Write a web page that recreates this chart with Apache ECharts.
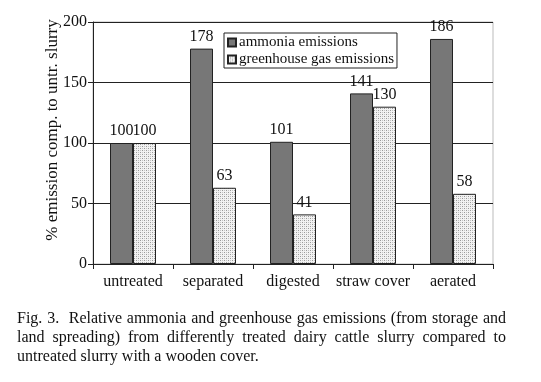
<!DOCTYPE html>
<html><head><meta charset="utf-8">
<script src="https://cdn.jsdelivr.net/npm/echarts@6/dist/echarts.min.js"></script>
<style>
html,body{margin:0;padding:0;background:#fff;}
#chart{position:absolute;left:0;top:0;width:541px;height:382px;}
#cap{position:absolute;left:17px;top:308px;width:489px;font-family:"Liberation Serif",serif;font-size:16px;line-height:19px;color:#111;text-align:justify;text-align-last:left;}
</style></head>
<body>
<div id="chart"></div>
<div id="cap">Fig. 3.&nbsp; Relative ammonia and greenhouse gas emissions (from storage and land spreading) from differently treated dairy cattle slurry compared to untreated slurry with a wooden cover.</div>
<script>
const categories = ['untreated','separated','digested','straw cover','aerated'];
const ammonia = [100,178,101,141,186];
const greenhouse = [100,63,41,130,58];
const yTicks = [0,50,100,150,200];
const yTitle = '% emission comp. to untr. slurry';

function makePattern(){
  const c = document.createElement('canvas');
  c.width = 4; c.height = 4;
  const g = c.getContext('2d');
  g.fillStyle = '#f2f2f2'; g.fillRect(0,0,4,4);
  g.fillStyle = '#999';
  g.fillRect(0,0,1,1); g.fillRect(2,2,1,1);
  g.fillStyle = '#c4c4c4';
  g.fillRect(2,0,1,1); g.fillRect(0,2,1,1);
  return c;
}
const pat = {image: makePattern(), repeat: 'repeat'};
const font = 'Liberation Serif';
const chart = echarts.init(document.getElementById('chart'), null, {renderer:'canvas'});
chart.setOption({
  animation:false,
  grid:{left:93, right:48, top:22, bottom:118, show:true, borderColor:'#bbbbbb', borderWidth:1, backgroundColor:'transparent'},
  legend:{
    left:224, top:33, orient:'vertical', itemWidth:8, itemHeight:8, itemGap:2,
    padding:[2,3,1,3], borderColor:'#222', borderWidth:1, backgroundColor:'#fff',
    textStyle:{fontFamily:font, fontSize:15, color:'#111', padding:[0,0,0,-2]},
    data:[{name:'ammonia emissions', icon:'rect'},{name:'greenhouse gas emissions', icon:'rect'}]
  },
  graphic:[{type:'text', x:53, y:130, rotation:Math.PI/2,
    style:{text:yTitle, fontFamily:font, fontSize:17, fill:'#111', align:'center', verticalAlign:'middle'}}],
  xAxis:{
    type:'category', data:categories,
    axisLine:{lineStyle:{color:'#222', width:1}},
    axisTick:{show:true, length:5, alignWithLabel:false, lineStyle:{color:'#222'}},
    axisLabel:{interval:0, fontFamily:font, fontSize:16, color:'#111', margin:10}
  },
  yAxis:{
    type:'value', min:0, max:200, interval:50,
    axisLine:{show:true, lineStyle:{color:'#222'}},
    axisTick:{show:true, length:5, lineStyle:{color:'#222'}},
    axisLabel:{fontFamily:font, fontSize:16, color:'#111', margin:6,
      formatter:v=>yTicks.includes(v)?String(v):''},
    splitLine:{lineStyle:{color:'#222', width:1}}
  },
  series:[
    {name:'ammonia emissions', type:'bar', data:ammonia, barWidth:23, barGap:'0%',
     itemStyle:{color:'#777777', borderColor:'#222', borderWidth:1},
     label:{show:true, position:'top', distance:4, fontFamily:font, fontSize:16, color:'#111'}},
    {name:'greenhouse gas emissions', type:'bar', data:greenhouse, barWidth:23,
     itemStyle:{color:pat, borderColor:'#222', borderWidth:1},
     label:{show:true, position:'top', distance:4, fontFamily:font, fontSize:16, color:'#111'}}
  ]
});
</script>
</body></html>
